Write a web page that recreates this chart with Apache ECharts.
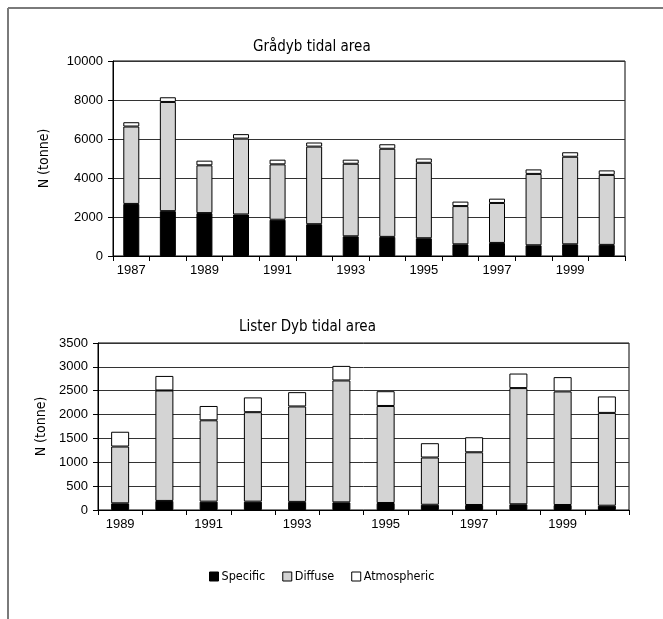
<!DOCTYPE html>
<html>
<head>
<meta charset="utf-8">
<script src="https://cdn.jsdelivr.net/npm/echarts@6/dist/echarts.min.js"></script>
<style>
  html, body { margin: 0; padding: 0; background: #fff; }
  #chart { width: 663px; height: 619px; }
</style>
</head>
<body>
<div id="chart"></div>
<script>
// Grådyb tidal area, 1987-2000
var gradybYears = ['1987', '1988', '1989', '1990', '1991', '1992', '1993', '1994', '1995', '1996', '1997', '1998', '1999', '2000'];
var gradybSpecific = [2670, 2300, 2200, 2130, 1860, 1630, 1010, 980, 910, 600, 670, 550, 600, 570];
var gradybDiffuse = [3970, 5600, 2450, 3890, 2840, 3980, 3720, 4520, 3870, 1960, 2050, 3660, 4490, 3590];
var gradybAtmos = [220, 240, 240, 230, 240, 210, 210, 230, 220, 230, 220, 230, 230, 230];

// Lister Dyb tidal area, 1989-2000
var listerYears = ['1989', '1990', '1991', '1992', '1993', '1994', '1995', '1996', '1997', '1998', '1999', '2000'];
var listerSpecific = [140, 190, 175, 175, 170, 160, 147, 110, 105, 120, 105, 90];
var listerDiffuse = [1190, 2315, 1705, 1875, 2000, 2555, 2033, 990, 1105, 2435, 2380, 1945];
var listerAtmos = [310, 305, 300, 310, 300, 305, 310, 300, 315, 305, 300, 345];

var gradybTicks = { min: 0, max: 10000, interval: 2000 };
var listerTicks = { min: 0, max: 3500, interval: 500 };

var seriesNames = ['Specific', 'Diffuse', 'Atmospheric'];
var seriesColors = ['#000000', '#d4d4d4', '#ffffff'];

var tickFont = "'Liberation Sans', Arial, sans-serif";
var labelFont = "'DejaVu Sans Condensed', 'Liberation Sans Narrow', sans-serif";

var myChart = echarts.init(document.getElementById('chart'));

function xAxisFor(idx, cats) {
    return {
        type: 'category',
        gridIndex: idx,
        data: cats,
        boundaryGap: true,
        axisLine: { lineStyle: { color: '#000', width: 1 } },
        axisTick: { show: true, interval: 0, length: 5, lineStyle: { color: '#000' } },
        axisLabel: { interval: 1, color: '#000', fontFamily: tickFont, fontSize: 13, margin: 8 },
        splitLine: { show: false }
    };
}

function yAxisFor(idx, ticks, gap) {
    return {
        type: 'value',
        gridIndex: idx,
        min: ticks.min,
        max: ticks.max,
        interval: ticks.interval,
        name: 'N (tonne)',
        nameLocation: 'middle',
        nameRotate: 90,
        nameGap: gap,
        nameTextStyle: { color: '#000', fontFamily: labelFont, fontSize: 14 },
        axisLine: { show: true, lineStyle: { color: '#000', width: 1 } },
        axisTick: { show: true, inside: false, length: 5, lineStyle: { color: '#000' } },
        axisLabel: {
            color: '#000', fontFamily: tickFont, fontSize: 13, margin: 10,
            formatter: function (v) { return String(v); }
        },
        splitLine: { show: true, lineStyle: { color: '#333', width: 1 } }
    };
}

function barSeries(idx, stackName, lists, width) {
    return lists.map(function (vals, i) {
        return {
            name: seriesNames[i],
            type: 'bar',
            stack: stackName,
            xAxisIndex: idx,
            yAxisIndex: idx,
            barWidth: width,
            data: vals,
            itemStyle: { color: seriesColors[i], borderColor: '#000', borderWidth: 1 },
            emphasis: { disabled: true }
        };
    });
}

var option = {
    animation: false,
    backgroundColor: '#fff',
    title: [
        {
            text: 'Grådyb tidal area',
            left: 248, top: 35,
            textStyle: { color: '#000', fontFamily: labelFont, fontSize: 15, fontWeight: 'normal' }
        },
        {
            text: 'Lister Dyb tidal area',
            left: 234, top: 315,
            textStyle: { color: '#000', fontFamily: labelFont, fontSize: 15, fontWeight: 'normal' }
        }
    ],
    legend: {
        data: seriesNames,
        left: 204, top: 565,
        icon: 'rect',
        itemWidth: 9, itemHeight: 9, itemGap: 17,
        textStyle: { color: '#000', fontFamily: labelFont, fontSize: 12.5, padding: [0, 0, 0, -2] },
        itemStyle: { borderColor: '#000', borderWidth: 1 }
    },
    grid: [
        { left: 113, right: 38, top: 61, height: 195, show: true, borderColor: '#000', borderWidth: 1, backgroundColor: 'transparent' },
        { left: 98, right: 34, top: 343, height: 167, show: true, borderColor: '#000', borderWidth: 1, backgroundColor: 'transparent' }
    ],
    xAxis: [xAxisFor(0, gradybYears), xAxisFor(1, listerYears)],
    yAxis: [yAxisFor(0, gradybTicks, 62), yAxisFor(1, listerTicks, 47)],
    series: barSeries(0, 'g', [gradybSpecific, gradybDiffuse, gradybAtmos], 16)
        .concat(barSeries(1, 'l', [listerSpecific, listerDiffuse, listerAtmos], 18)),
    graphic: [
        // outer frame: top and left edges only
        { type: 'line', shape: { x1: 8, y1: 8, x2: 663, y2: 8 }, style: { stroke: '#7a7a7a', lineWidth: 2 } },
        { type: 'line', shape: { x1: 8, y1: 8, x2: 8, y2: 619 }, style: { stroke: '#7a7a7a', lineWidth: 2 } }
    ]
};

myChart.setOption(option);
window.addEventListener('resize', function () {
    myChart.resize();
});
</script>
</body>
</html>
